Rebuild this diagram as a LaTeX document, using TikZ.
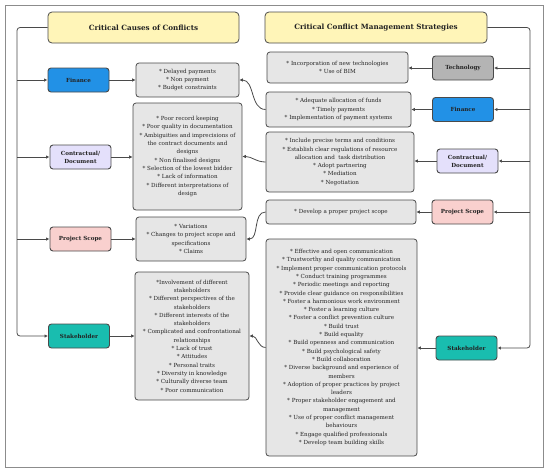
\documentclass[tikz,border=0pt]{standalone}
\usepackage{fontspec}
\setmainfont{DejaVu Serif}
\usetikzlibrary{arrows.meta}
\definecolor{edge}{HTML}{4A4A4A}
\definecolor{framec}{HTML}{8C8C8C}
\definecolor{titlefill}{HTML}{FFF5B8}
\definecolor{boxfill}{HTML}{E6E6E6}
\definecolor{finfill}{HTML}{2291E6}
\definecolor{confill}{HTML}{E4E0FB}
\definecolor{psfill}{HTML}{F9D0CE}
\definecolor{stkfill}{HTML}{19BDAF}
\definecolor{techfill}{HTML}{B4B4B4}
\definecolor{txt}{HTML}{222222}
\begin{document}
\begin{tikzpicture}[x=1pt,y=-1pt,
  box/.style={draw=edge, line width=0.8pt, rounded corners=3pt, fill=boxfill, align=center, inner sep=0pt, text=txt, font=\fontsize{5.6}{8.3}\selectfont},
  lab/.style={draw=edge, line width=0.9pt, rounded corners=3pt, align=center, inner sep=0pt, text=txt, font=\fontsize{5.6}{8}\selectfont\bfseries, minimum width=61pt, minimum height=24pt},
  ttl/.style={draw=edge, line width=0.8pt, rounded corners=4pt, fill=titlefill, align=center, inner sep=0pt, text=txt, font=\fontsize{7.2}{9}\selectfont\bfseries, minimum height=31pt},
  line/.style={draw=edge, line width=0.8pt},
  arr/.style={line, -{Latex[length=3.5pt,width=3.5pt]}}
]
\useasboundingbox (0,0) rectangle (550,472);
\draw[framec, line width=1pt] (5,5) rectangle (543,467);

% titles
\node[ttl, minimum width=191pt] (titleL) at (143.5,27.5) {Critical Causes of Conflicts};
\node[ttl, minimum width=222pt] (titleR) at (376,27.5) {Critical Conflict Management Strategies};

% left labels
\node[lab, fill=finfill] (finL) at (78.5,80) {Finance};
\node[lab, fill=confill] (conL) at (80.5,157) {Contractual/\\Document};
\node[lab, fill=psfill] (psL) at (80.5,239) {Project Scope};
\node[lab, fill=stkfill] (stkL) at (79,336) {Stakeholder};

% causes
\node[box, minimum width=103pt, minimum height=34pt] (c1) at (187.5,80) {* Delayed payments\\* Non payment\\* Budget constraints};
\node[box, minimum width=109pt, minimum height=107pt] (c2) at (187.5,156.5) {* Poor record keeping\\* Poor quality in documentation\\* Ambiguities and imprecisions of\\the contract documents and\\designs\\* Non finalised designs\\* Selection of the lowest bidder\\* Lack of information\\* Different interpretations of\\design};
\node[box, minimum width=110pt, minimum height=44pt] (c3) at (191,239) {* Variations\\* Changes to project scope and\\specifications\\* Claims};
\node[box, minimum width=114pt, minimum height=128pt] (c4) at (192,336) {*Involvement of different\\stakeholders\\* Different perspectives of the\\stakeholders\\* Different interests of the\\stakeholders\\* Complicated and confrontational\\relationships\\* Lack of trust\\* Attitudes\\* Personal traits\\* Diversity in knowledge\\* Culturally diverse team\\* Poor communication};

% right labels
\node[lab, fill=techfill] (tech) at (463,68) {Technology};
\node[lab, fill=finfill] (finR) at (463,109.5) {Finance};
\node[lab, fill=confill] (conR) at (467.5,161) {Contractual/\\Document};
\node[lab, fill=psfill] (psR) at (462.5,212) {Project Scope};
\node[lab, fill=stkfill] (stkR) at (466.5,348) {Stakeholder};

% strategies
\node[box, minimum width=141pt, minimum height=31pt] (s1) at (337.5,67.5) {* Incorporation of new technologies\\* Use of BIM};
\node[box, minimum width=145pt, minimum height=35pt] (s2) at (338.5,109.5) {* Adequate allocation of funds\\* Timely payments\\* Implementation of payment systems};
\node[box, minimum width=148pt, minimum height=60pt] (s3) at (340,162) {* Include precise terms and conditions\\* Establish clear regulations of resource\\allocation and\ \ task distribution\\* Adopt partnering\\* Mediation\\* Negotiation};
\node[box, minimum width=150pt, minimum height=24pt] (s4) at (341,212) {* Develop a proper project scope};
\node[box, minimum width=151pt, minimum height=217pt] (s5) at (341.5,347.5) {* Effective and open communication\\* Trustworthy and quality communication\\* Implement proper communication protocols\\* Conduct training programmes\\* Periodic meetings and reporting\\* Provide clear guidance on responsibilities\\* Foster a harmonious work environment\\* Foster a learning culture\\* Foster a conflict prevention culture\\* Build trust\\* Build equality\\* Build openness and communication\\* Build psychological safety\\* Build collaboration\\* Diverse background and experience of\\members\\* Adoption of proper practices by project\\leaders\\* Proper stakeholder engagement and\\management\\* Use of proper conflict management\\behaviours\\* Engage qualified professionals\\* Develop team building skills};

% left trunk
\coordinate (lt) at (17,27.5);
\coordinate (lb) at (17,336);
\draw[arr, rounded corners=3pt] (titleL.west) -- (lt) -- (lb) -- (stkL.west);
\draw[arr] (finL.west -| lt) -- (finL.west);
\draw[arr] (conL.west -| lt) -- (conL.west);
\draw[arr] (psL.west -| lt) -- (psL.west);

% right trunk
\coordinate (rt) at (530,27.5);
\coordinate (rb) at (530,348);
\draw[arr, rounded corners=3pt] (titleR.east) -- (rt) -- (rb) -- (stkR.east);
\draw[arr] (tech.east -| rt) -- (tech.east);
\draw[arr] (finR.east -| rt) -- (finR.east);
\draw[arr] (conR.east -| rt) -- (conR.east);
\draw[arr] (psR.east -| rt) -- (psR.east);

% label to box
\draw[arr] (finL.east) -- (finL.east -| c1.west);
\draw[arr] (conL.east) -- (conL.east -| c2.west);
\draw[arr] (psL.east) -- (psL.east -| c3.west);
\draw[arr] (stkL.east) -- (stkL.east -| c4.west);
\draw[arr] (tech.west) -- (tech.west -| s1.east);
\draw[arr] (finR.west) -- (finR.west -| s2.east);
\draw[arr] (conR.west) -- (conR.west -| s3.east);
\draw[arr] (psR.west) -- (psR.west -| s4.east);
\draw[arr] (stkR.west) -- (stkR.west -| s5.east);

% strategy to cause
\draw[arr] (s2.west) to[out=180,in=0] (c1.east);
\draw[arr] (s3.west) to[out=180,in=0] (c2.east);
\draw[arr] (s4.west) to[out=180,in=0] (c3.east);
\draw[arr] (s5.west) to[out=180,in=0] (c4.east);
\end{tikzpicture}
\end{document}
